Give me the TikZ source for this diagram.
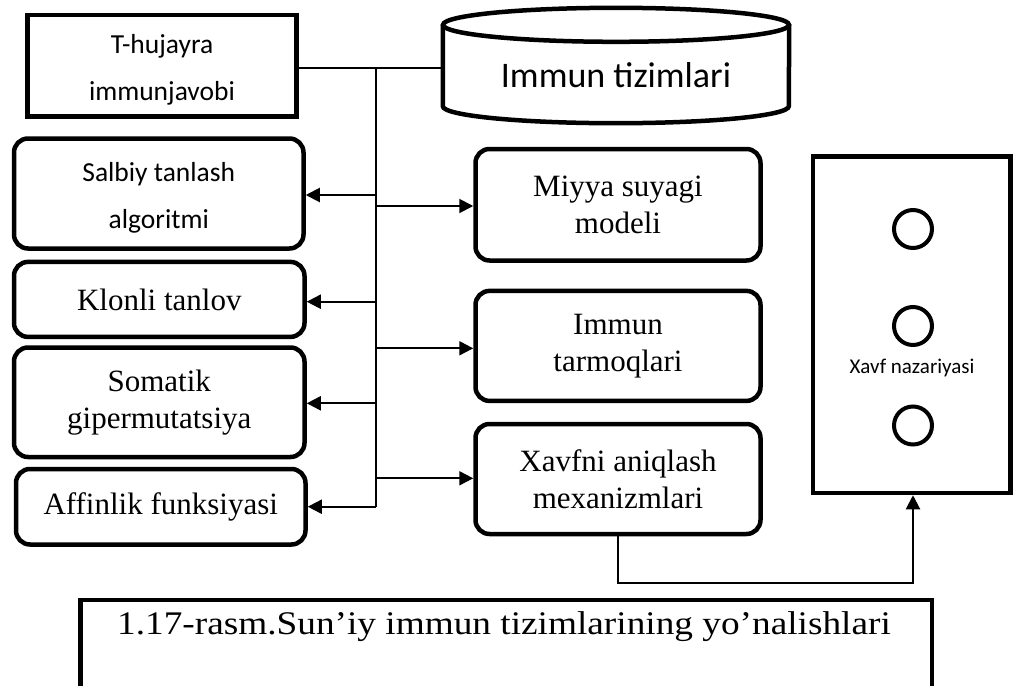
\documentclass[tikz,border=0pt]{standalone}
\usepackage{fontspec}
\setmainfont{Liberation Serif}[Ligatures=CommonOff]
\newfontfamily\calfont{Carlito}
\newfontfamily\capfont{Liberation Serif}[FakeStretch=1.13, Ligatures=CommonOff]
\usetikzlibrary{arrows.meta}

\begin{document}
\begin{tikzpicture}[x=1pt,y=-1pt,
  frame/.style={draw, line width=4.5pt, inner sep=0pt, align=center},
  rbox/.style={frame, rounded corners=14pt},
  serif/.style={font=\fontsize{31}{37}\selectfont},
  sans/.style={font=\calfont\fontsize{27.5}{47}\selectfont, align=center},
  dot/.style={circle, draw, line width=4pt, minimum size=38pt, inner sep=0pt},
  link/.style={line width=2pt},
  arr/.style={link, -{Triangle[length=14pt,width=14pt]}},
]
\useasboundingbox (0,0) rectangle (1013,686);
\clip (0,0) rectangle (1013,686);
\fill[white] (0,0) rectangle (1013,686);

% top row: T-cell box and the database cylinder
\node[frame, minimum width=269pt, minimum height=101.5pt] (th) at (162,65.75) {};
\node[sans] (thtext) at ([yshift=-4pt]th.center) {T-hujayra\\immunjavobi};
\node[inner sep=0pt, minimum width=346pt, minimum height=81pt] (cyl) at (616,65.5) {};
\draw[line width=4.5pt, fill=white] (cyl.north west) -- (cyl.south west)
  arc[start angle=180, end angle=360, x radius=173pt, y radius=17pt] -- (cyl.north east);
\draw[line width=4.5pt, fill=white] (cyl.north) ellipse[x radius=173pt, y radius=17pt];
\node[font=\calfont\fontsize{36}{43}\selectfont, anchor=base] (cyltext) at (616,87) {Immun tizimlari};

% left column
\node[rbox, minimum width=289.5pt, minimum height=110pt] (salbiy) at (158.75,193.5) {};
\node[sans] (salbiytext) at ([yshift=-4pt]salbiy.center) {Salbiy tanlash\\algoritmi};
\node[rbox, serif, minimum width=290.5pt, minimum height=75pt] (klon) at (159.25,299.4) {Klonli tanlov};
\node[rbox, serif, minimum width=290.5pt, minimum height=109.5pt] (somatik) at (159.25,402.25) {Somatik\\gipermutatsiya};
\node[rbox, serif, minimum width=289.5pt, minimum height=75.5pt] (affin) at (160.75,506.75) {Affinlik funksiyasi};

% middle column
\node[rbox, serif, minimum width=285pt, minimum height=111.5pt] (miyya) at (618,204.75) {Miyya suyagi\\modeli};
\node[rbox, serif, minimum width=285pt, minimum height=110pt] (tarmoq) at (618,345.9) {Immun\\tarmoqlari};
\node[rbox, serif, minimum width=285pt, minimum height=110pt] (xavfni) at (618,479) {Xavfni aniqlash\\mexanizmlari};

% danger theory panel
\node[frame, minimum width=197.5pt, minimum height=336.5pt] (xavf) at (911.75,324.75) {};
\node[dot] (c1) at (913,229) {};
\node[dot] (c2) at (913,326) {};
\node[dot] (c3) at (913,425.5) {};
\node[font=\calfont\fontsize{21}{25}\selectfont, anchor=base] (xavftext) at (912,373) {Xavf nazariyasi};

% caption frame
\node[draw, line width=4.5pt, inner sep=0pt, minimum width=851.5pt, minimum height=150pt, anchor=north] (capbox) at (506.25,597.5) {};
\node[font=\capfont\fontsize{33}{39}\selectfont, anchor=base] (captext) at (504,634) {1.17-rasm.Sun’iy immun tizimlarining yo’nalishlari};

% trunk with branches
\coordinate (top) at (376,68);
\coordinate (bot) at (376,506.7);
\coordinate (l1) at (376,195);
\coordinate (l2) at (376,301.7);
\coordinate (l3) at (376,403.3);
\coordinate (r1) at (376,206);
\coordinate (r2) at (376,348.3);
\coordinate (r3) at (376,478.3);
\coordinate (elbow) at (913,583.3);

\draw[link] (th.east |- top) -- (cyl.west |- top);
\draw[link] (top) -- (bot);
\draw[arr] (l1) -- (l1 -| salbiy.east);
\draw[arr] (l2) -- (l2 -| klon.east);
\draw[arr] (l3) -- (l3 -| somatik.east);
\draw[arr] (bot) -- (bot -| affin.east);
\draw[arr] (r1) -- (r1 -| miyya.west);
\draw[arr] (r2) -- (r2 -| tarmoq.west);
\draw[arr] (r3) -- (r3 -| xavfni.west);
\draw[arr] (xavfni.south) |- (elbow) -- (elbow |- xavf.south);
\end{tikzpicture}
\end{document}
